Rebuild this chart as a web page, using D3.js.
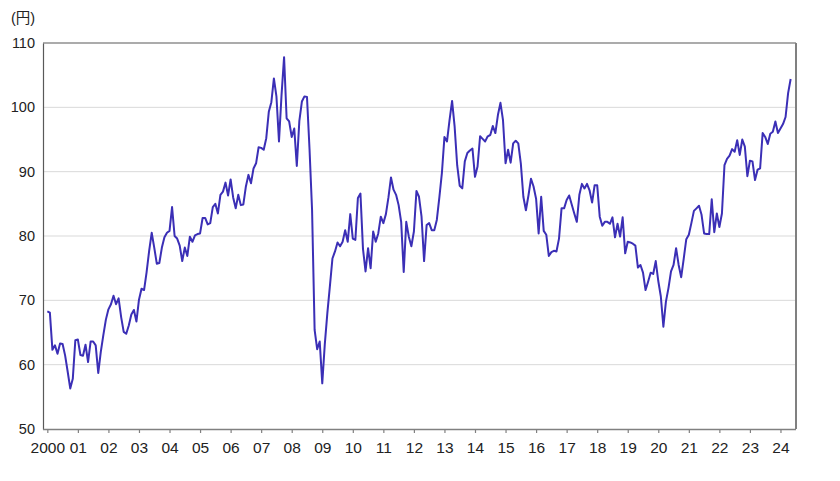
<!DOCTYPE html>
<html><head><meta charset="utf-8">
<script src="https://cdn.jsdelivr.net/npm/d3@7"></script>
<style>body{margin:0;background:#fff;} svg{display:block;font-family:"Liberation Sans",Arial,sans-serif;}</style>
</head><body><svg id="c" width="840" height="481"></svg>
<script>
// Monthly values (month-end), Jan 2000 .. May 2024
const startYear = 2000;
const values = [
 68.3,68.1,62.3,63.0,61.7,63.3,63.2,61.4,58.9,56.3,57.8,63.8,
 63.9,61.5,61.4,63.1,60.4,63.6,63.6,63.0,58.7,62.0,64.6,67.0,
 68.6,69.4,70.7,69.4,70.3,67.4,65.1,64.8,66.1,67.8,68.5,66.7,
 70.1,71.8,71.6,74.4,77.7,80.5,78.2,75.7,75.8,78.2,79.8,80.5,
 80.8,84.5,80.0,79.6,78.5,76.1,78.2,76.9,79.9,79.1,80.1,80.3,
 80.4,82.8,82.8,81.8,82.0,84.5,85.0,83.5,86.4,86.9,88.3,86.3,
 88.8,86.0,84.3,86.4,84.8,84.9,87.7,89.5,88.2,90.5,91.3,93.8,
 93.7,93.4,95.2,99.3,100.8,104.5,101.7,94.7,101.9,107.8,98.3,97.8,
 95.4,96.7,90.9,97.9,100.9,101.7,101.6,93.5,84.0,65.4,62.4,63.6,
 57.1,63.2,68.0,72.2,76.5,77.6,79.0,78.4,79.1,80.9,79.1,83.4,
 79.6,79.4,85.9,86.6,78.0,74.5,78.1,75.0,80.7,79.1,80.4,83.0,
 82.0,83.4,86.0,89.1,87.2,86.4,84.8,82.2,74.4,82.2,79.9,78.4,
 80.7,87.0,86.1,83.0,76.1,81.7,82.0,80.9,80.9,82.5,86.0,89.8,
 95.4,94.7,98.0,101.0,97.0,91.0,87.8,87.4,91.6,92.9,93.3,93.6,
 89.2,90.8,95.5,95.1,94.7,95.5,95.7,97.1,96.0,98.8,100.7,98.0,
 91.3,93.4,91.4,94.4,94.8,94.4,91.3,86.1,84.0,86.3,88.9,87.7,
 85.8,80.4,86.1,80.8,80.2,76.9,77.5,77.7,77.6,79.6,84.3,84.3,
 85.6,86.3,84.9,83.5,82.2,86.4,88.1,87.4,88.1,87.1,85.2,87.9,
 87.9,83.0,81.6,82.2,82.2,81.9,82.9,79.8,81.9,79.9,82.9,77.3,
 79.1,79.0,78.8,78.5,75.1,75.5,74.3,71.6,72.9,74.3,74.1,76.1,
 73.0,70.6,65.9,69.8,71.9,74.5,75.5,78.1,75.5,73.6,76.5,79.5,
 80.2,82.0,83.9,84.3,84.7,83.3,80.4,80.3,80.3,85.7,80.6,83.5,
 81.4,83.5,91.0,92.0,92.5,93.5,93.1,94.9,92.6,95.0,93.9,89.3,
 91.7,91.6,88.7,90.3,90.5,96.0,95.4,94.3,95.9,96.2,97.8,96.0,
 96.7,97.4,98.5,102.2,104.4
];
const yTicks = [50,60,70,80,90,100,110];
const xTickLabels = ["2000","01","02","03","04","05","06","07","08","09","10","11","12",
  "13","14","15","16","17","18","19","20","21","22","23","24"];
const unitLabel = "(円)";

const svg = d3.select("#c");
const L=43, R=796, T=43, B=429;
const x = d3.scaleLinear().domain([-1.7, 294.1]).range([L, R]);
const y = d3.scaleLinear().domain([50, 110]).range([B, T]);

// gridlines
svg.append("g").selectAll("line").data(yTicks.filter(v=>v>50 && v<110)).join("line")
  .attr("x1", L).attr("x2", R).attr("y1", d=>y(d)).attr("y2", d=>y(d))
  .attr("stroke", "#d9d9d9").attr("stroke-width", 1);

// frame
svg.append("line").attr("x1",L).attr("x2",R).attr("y1",T).attr("y2",T).attr("stroke","#595959").attr("stroke-width",1.2);
svg.append("line").attr("x1",R).attr("x2",R).attr("y1",T).attr("y2",B).attr("stroke","#808080").attr("stroke-width",2);

// y axis
const yAxis = d3.axisLeft(y).tickValues(yTicks).tickSize(0).tickPadding(8);
const gy = svg.append("g").attr("transform", `translate(${L},0)`).call(yAxis);
gy.select(".domain").attr("stroke","#595959").attr("stroke-width",1.2);
gy.selectAll("text").attr("font-size", 14.5).attr("fill", "#222")
  .attr("font-family","'Liberation Sans',Arial,sans-serif");

// x axis
const xTickVals = xTickLabels.map((_, k) => k*12);
const xAxis = d3.axisBottom(x).tickValues(xTickVals).tickSize(4).tickPadding(9)
  .tickFormat((d,k)=>xTickLabels[k]);
const gx = svg.append("g").attr("transform", `translate(0,${B})`).call(xAxis);
gx.select(".domain").attr("stroke","#808080").attr("stroke-width",1.5).attr("d", `M${L},0.5H${R}`);
gx.selectAll(".tick line").attr("stroke","#808080").attr("stroke-width",1.2);
gx.selectAll("text").attr("font-size", 15.5).attr("fill", "#222")
  .attr("font-family","'Liberation Sans',Arial,sans-serif");

// unit label
svg.append("text").attr("x", 11).attr("y", 23).attr("font-size", 14.5).attr("fill","#222")
  .attr("font-family","'Liberation Sans','Noto Sans CJK JP',sans-serif").text(unitLabel);

// line
const line = d3.line().x((d,i)=>x(i)).y(d=>y(d));
svg.append("path").datum(values).attr("d", line).attr("fill","none")
  .attr("stroke","#3b2fb6").attr("stroke-width",2).attr("stroke-linejoin","round");
</script></body></html>
